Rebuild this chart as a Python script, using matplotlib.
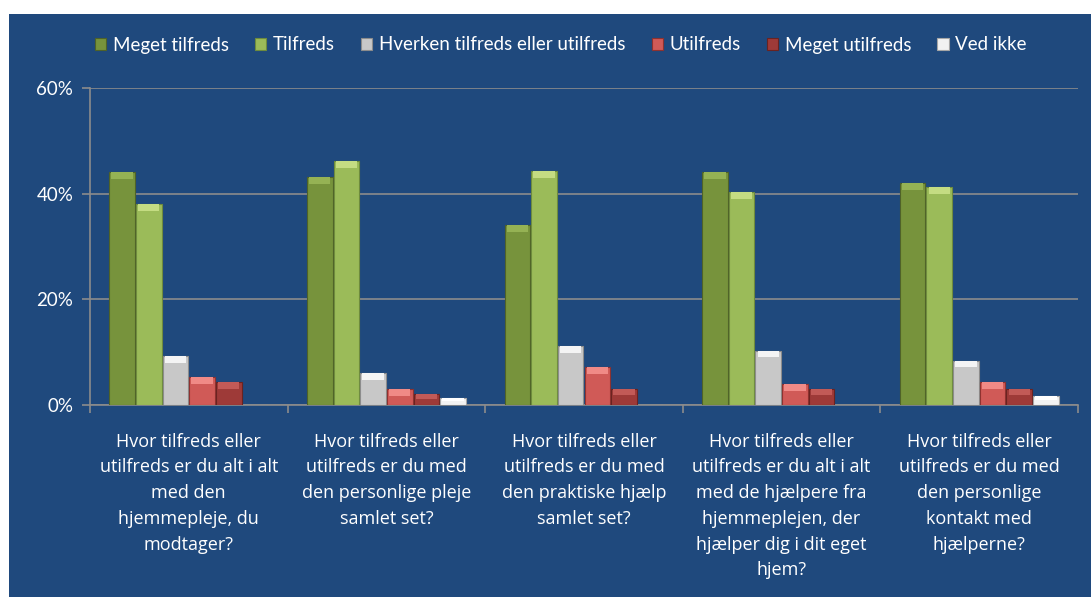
import numpy as np
import matplotlib
matplotlib.use('Agg')
import matplotlib.pyplot as plt
from matplotlib.patches import Rectangle
from matplotlib.ticker import FuncFormatter, MultipleLocator

plt.rcParams['font.family'] = ['Lato', 'DejaVu Sans']

# spoergsmaal (x-akse)
questions = [
    'Hvor tilfreds eller\nutilfreds er du alt i alt\nmed den\nhjemmepleje, du\nmodtager?',
    'Hvor tilfreds eller\nutilfreds er du med\nden personlige pleje\nsamlet set?',
    'Hvor tilfreds eller\nutilfreds er du med\nden praktiske hjælp\nsamlet set?',
    'Hvor tilfreds eller\nutilfreds er du alt i alt\nmed de hjælpere fra\nhjemmeplejen, der\nhjælper dig i dit eget\nhjem?',
    'Hvor tilfreds eller\nutilfreds er du med\nden personlige\nkontakt med\nhjælperne?',
]

series_names = ['Meget tilfreds', 'Tilfreds', 'Hverken tilfreds eller utilfreds',
                'Utilfreds', 'Meget utilfreds', 'Ved ikke']

# procent
meget_tilfreds = [44.1, 43.2, 34.0, 44.1, 42.0]
tilfreds = [38.0, 46.1, 44.2, 40.3, 41.2]
hverken = [9.3, 6.1, 11.1, 10.3, 8.4]
utilfreds = [5.3, 3.0, 7.2, 4.0, 4.4]
meget_utilfreds = [4.4, 2.1, 3.1, 3.1, 3.1]
ved_ikke = [0.0, 1.4, 0.0, 0.0, 1.7]

values = [meget_tilfreds, tilfreds, hverken, utilfreds, meget_utilfreds, ved_ikke]
colors = ['#77933C', '#9BBB59', '#C8C8C8', '#D05A57', '#9E3A38', '#F2F2F2']
caps = ['#95B254', '#C4DC82', '#F4F4F4', '#F08A86', '#C25A57', '#FFFFFF']
edges = ['#4F6228', '#6E8B3D', '#8C8C8C', '#8E3230', '#6A2321', '#A6A6A6']

bg = '#1F497D'
fig = plt.figure(figsize=(10.91, 5.97), dpi=100)
fig.patch.set_facecolor('white')
fig.patches.append(Rectangle((9 / 1091, 0), 1, 1 - 14 / 597, transform=fig.transFigure,
                             facecolor=bg, edgecolor='none', zorder=-5))

ax = fig.add_axes([90 / 1091, 1 - 405 / 597, (1078 - 90) / 1091, (405 - 88) / 597])
ax.set_facecolor(bg)

x = np.arange(len(questions))
w = 0.135
for j, vals in enumerate(values):
    vals = np.array(vals)
    pos = x + (j - 2.5) * w
    ax.bar(pos, vals, width=w * 0.96, color=colors[j],
           edgecolor=edges[j], linewidth=0.8, label=series_names[j], zorder=3)
    # lys kant foroven (bevel)
    cap = np.minimum(1.3, vals * 0.45)
    ax.bar(pos, cap, bottom=vals - cap, width=w * 0.8, color=caps[j],
           linewidth=0, zorder=4)

ax.set_xlim(-0.5, len(questions) - 0.5)
ax.set_ylim(0, 60)
ax.yaxis.set_major_locator(MultipleLocator(20))
ax.yaxis.set_major_formatter(FuncFormatter(lambda v, p: '%d%%' % v))
ax.grid(axis='y', color='#8C8C8C', linewidth=1.2, zorder=1)

ax.set_xticks(x)
ax.set_xticklabels(questions, color='white', fontsize=13, linespacing=1.55, va='top',
                   family=['Open Sans', 'DejaVu Sans'])
ax.set_xticks(np.arange(-0.5, len(questions)), minor=True)
ax.tick_params(axis='x', which='major', length=0, pad=20)
ax.tick_params(axis='x', which='minor', length=6, color='#8C8C8C', width=1.2)
ax.tick_params(axis='y', colors='white', labelsize=13.5, length=6, color='#8C8C8C', width=1.2, pad=6)

for s in ['top', 'right']:
    ax.spines[s].set_visible(False)
for s in ['left', 'bottom']:
    ax.spines[s].set_color('#8C8C8C')
    ax.spines[s].set_linewidth(1.2)

leg = fig.legend(loc='center left', bbox_to_anchor=(78 / 1091, 1 - 45 / 597), ncol=6,
                 frameon=False, fontsize=13.5, handlelength=0.6, handleheight=0.6,
                 handletextpad=0.35, columnspacing=1.4, labelcolor='white')

plt.savefig('out.png', dpi=100, facecolor='white')
